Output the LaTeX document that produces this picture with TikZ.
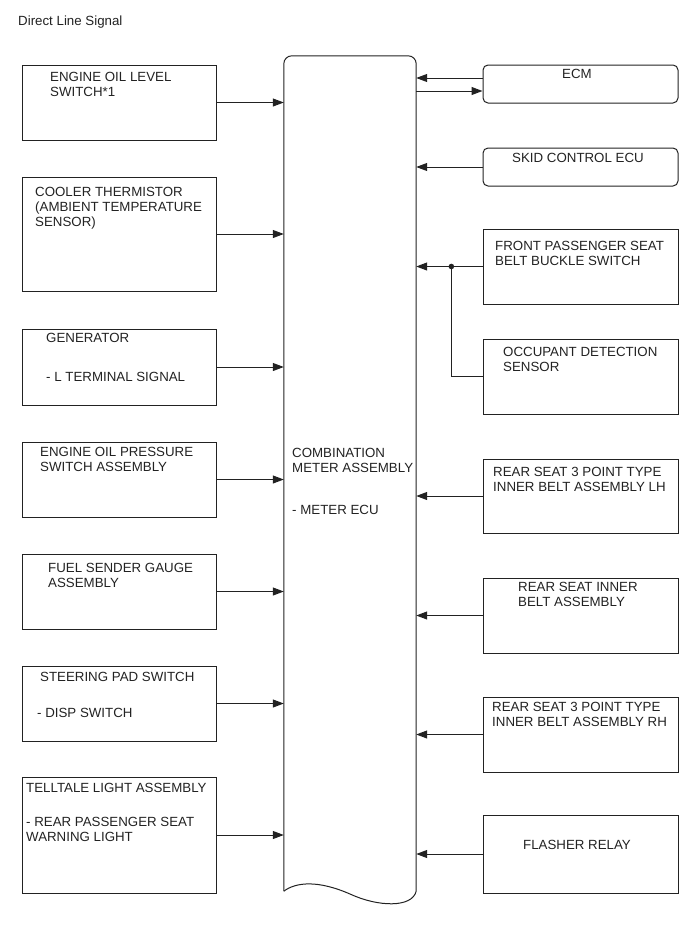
\documentclass[tikz,border=0pt]{standalone}
\usepackage{fontspec}
\setmainfont{Liberation Sans}
\usetikzlibrary{arrows.meta, calc}
\definecolor{Ink}{HTML}{222222}
\newcommand{\boxfont}{\fontsize{13.3}{15}\selectfont}

\begin{document}
\begin{tikzpicture}[x=1pt, y=-1pt,
    part/.style={rectangle, draw=Ink, line width=1pt, minimum width=194pt, minimum height=75pt, inner sep=0pt},
    rpart/.style={part, minimum width=195pt},
    ecu/.style={rpart, rounded corners=5pt, minimum height=38pt},
    txt/.style={font=\boxfont, text=Ink, align=left, inner sep=0pt, anchor=north west},
    ctxt/.style={font=\boxfont, text=Ink, inner sep=0pt},
    arrow/.style={-{Triangle[length=11pt,width=8pt]}, draw=Ink, line width=1pt},
    wire/.style={draw=Ink, line width=1pt}
]
\useasboundingbox (0,0) rectangle (690,951);

\node[txt] (title) at (18,15.5) {Direct Line Signal};

% combination meter
\node[rectangle, inner sep=0pt, minimum width=132pt, minimum height=835pt] (meter) at (350,473.5) {};
\draw[wire, rounded corners=8pt] (meter.south west) -- (meter.north west) -- (meter.north east) -- (meter.south east);
\draw[wire] (meter.south west) .. controls (296,882) and (318,880) .. (350,894) .. controls (378,907) and (412,908) .. (meter.south east);
\node[txt] (metertxt) at (292,448) {COMBINATION\\METER ASSEMBLY\\[27pt]- METER ECU};

% left side inputs
\node[part] (oillvl) at (119,102.5) {};
\node[part, minimum height=114pt] (cooler) at (119,234) {};
\node[part, minimum height=76pt] (gen) at (119,367) {};
\node[part] (oilpres) at (119,479.5) {};
\node[part] (fuel) at (119,591.5) {};
\node[part] (steer) at (119,703.5) {};
\node[part, minimum height=116pt] (telltale) at (119,835) {};

\node[txt] (oillvltxt) at (50,72) {ENGINE OIL LEVEL\\SWITCH*1};
\node[txt] (coolertxt) at (35,187) {COOLER THERMISTOR\\(AMBIENT TEMPERATURE\\SENSOR)};
\node[txt] (gentxt) at (46,333) {GENERATOR\\[24pt]- L TERMINAL SIGNAL};
\node[txt] (oilprestxt) at (40,447) {ENGINE OIL PRESSURE\\SWITCH ASSEMBLY};
\node[txt] (fueltxt) at (48,563) {FUEL SENDER GAUGE\\ASSEMBLY};
\node[txt] (steertxt) at (40,672) {STEERING PAD SWITCH};
\node[txt] (disptxt) at (37,708) {- DISP SWITCH};
\node[txt] (telltaletxt) at (26,783) {TELLTALE LIGHT ASSEMBLY\\[19pt]- REAR PASSENGER SEAT\\WARNING LIGHT};

% right side inputs
\node[ecu] (ecm) at (580.5,84) {};
\node[ecu] (skid) at (580.5,167) {};
\node[rpart] (front) at (580.5,266.5) {};
\node[rpart] (occ) at (580.5,376.5) {};
\node[rpart, minimum height=74pt] (beltlh) at (580.5,496) {};
\node[rpart] (beltin) at (580.5,615.5) {};
\node[rpart] (beltrh) at (580.5,734.5) {};
\node[rpart, minimum height=78pt] (flasher) at (580.5,854) {};

\node[ctxt] (ecmtxt) at (577,74) {ECM};
\node[ctxt] (skidtxt) at (578,158) {SKID CONTROL ECU};
\node[txt] (fronttxt) at (495,241) {FRONT PASSENGER SEAT\\BELT BUCKLE SWITCH};
\node[txt] (occtxt) at (503,347) {OCCUPANT DETECTION\\SENSOR};
\node[txt] (beltlhtxt) at (493,467) {REAR SEAT 3 POINT TYPE\\INNER BELT ASSEMBLY LH};
\node[txt] (beltintxt) at (518,582) {REAR SEAT INNER\\BELT ASSEMBLY};
\node[txt] (beltrhtxt) at (492,702) {REAR SEAT 3 POINT TYPE\\INNER BELT ASSEMBLY RH};
\node[ctxt] (flashertxt) at (577,845) {FLASHER RELAY};

% signals into the meter
\foreach \src in {oillvl, cooler, gen, oilpres, fuel, steer, telltale}
    \draw[arrow] (\src.east) -- (\src.east -| meter.west);
\foreach \src in {skid, front, beltlh, beltin, beltrh, flasher}
    \draw[arrow] (\src.west) -- (\src.west -| meter.east);

% ECM both ways
\draw[arrow] ([yshift=6pt]ecm.west) -- ([yshift=6pt]ecm.west -| meter.east);
\draw[arrow] ([yshift=-7pt]ecm.west -| meter.east) -- ([yshift=-7pt]ecm.west);

% occupant sensor joins the buckle switch line
\coordinate (jn) at ($(front.west)!0.47!(front.west -| meter.east)$);
\fill[Ink] (jn) circle (2.8pt);
\draw[wire] (jn) |- (occ.west);
\end{tikzpicture}
\end{document}
